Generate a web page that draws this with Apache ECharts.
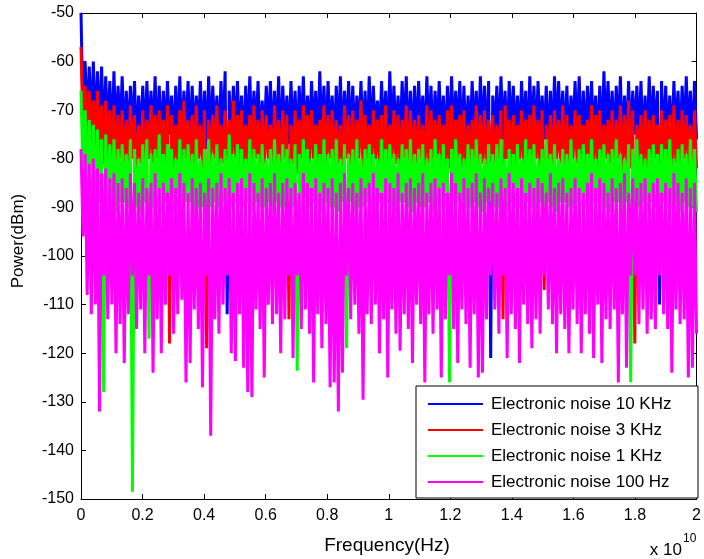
<!DOCTYPE html>
<html>
<head>
<meta charset="utf-8">
<script src="https://cdn.jsdelivr.net/npm/echarts@6/dist/echarts.min.js"></script>
<style>html,body{margin:0;padding:0;background:#fff;}#c{width:704px;height:559px;}</style>
</head>
<body>
<div id="c"></div>
<script>
// Frequency axis in units of 1e10 Hz
const freqMin = 0, freqMax = 2;
const xTicks = [0, 0.2, 0.4, 0.6, 0.8, 1, 1.2, 1.4, 1.6, 1.8, 2];
const yTicks = [-150, -140, -130, -120, -110, -100, -90, -80, -70, -60, -50];
const seriesNames = ['Electronic noise 10 KHz', 'Electronic noise 3 KHz', 'Electronic noise 1 KHz', 'Electronic noise 100 Hz'];

// Upper (peak) and lower (trough) excursions of each noise trace, read along the frequency axis (dBm)
const blueTop = [
-50,-60,-61,-60,-62,-61,-63,-64,-62,-65,
-63,-66,-65,-64,-67,-65,-64,-66,-63,-65,
-66,-64,-67,-65,-63,-66,-64,-65,-67,-64,
-66,-63,-65,-67,-64,-62,-66,-65,-64,-67,
-65,-63,-66,-64,-68,-65,-64,-66,-63,-65,
-67,-64,-66,-65,-63,-67,-64,-66,-62,-65,
-64,-67,-65,-63,-66,-64,-65,-67,-64,-66,
-63,-65,-68,-64,-66,-62,-65,-67,-64,-63,
-66,-65,-64,-67,-63,-65,-66,-64,-67,-65,
-63,-66,-64,-65,-67,-64,-66,-63,-65,-64,
-67,-65,-63,-66,-64,-65,-67,-64,-66,-63,
-65,-64,-67,-65,-66,-63,-64,-66,-65,-67,
-64,-63,-66,-65,-64,-67,-65,-62,-64,-66,
-65,-63,-67,-64,-66,-65,-64,-67,-63,-65,
-66,-64,-65,-67,-64,-66,-65,-63,-66,-64];
const blueBottom = [
-72,-73,-74,-75,-74,-76,-75,-77,-76,-75,
-77,-76,-75,-78,-76,-77,-75,-76,-78,-77,
-76,-75,-77,-76,-78,-75,-77,-76,-75,-77,
-78,-76,-75,-77,-76,-112,-77,-75,-76,-78,
-76,-77,-75,-78,-76,-75,-77,-76,-78,-75,
-77,-76,-78,-75,-77,-76,-75,-78,-76,-77,
-75,-77,-76,-78,-75,-77,-76,-75,-77,-78,
-76,-75,-77,-76,-78,-75,-76,-77,-75,-78,
-77,-76,-75,-78,-76,-77,-75,-76,-78,-77,
-76,-75,-77,-78,-76,-75,-77,-76,-78,-121,
-75,-77,-76,-78,-75,-76,-77,-75,-78,-76,
-77,-75,-76,-78,-77,-75,-76,-77,-78,-75,
-76,-78,-77,-75,-76,-77,-78,-75,-76,-77,
-75,-78,-76,-77,-75,-76,-78,-77,-76,-75,
-110,-77,-76,-78,-75,-77,-76,-75,-78,-76];

const redTop = [
-57,-65,-66,-68,-66,-69,-68,-70,-69,-71,
-70,-72,-69,-71,-73,-70,-72,-69,-71,-70,
-72,-69,-71,-73,-70,-68,-72,-71,-69,-73,
-70,-72,-71,-69,-73,-70,-72,-68,-71,-70,
-73,-71,-69,-72,-70,-71,-73,-69,-72,-70,
-71,-73,-70,-72,-69,-71,-70,-73,-72,-69,
-71,-70,-72,-73,-69,-71,-70,-72,-68,-71,
-73,-70,-72,-71,-69,-73,-70,-71,-72,-69,
-70,-72,-71,-73,-69,-70,-72,-71,-73,-70,
-69,-72,-71,-70,-73,-72,-69,-71,-70,-72,
-71,-73,-70,-69,-72,-71,-73,-70,-72,-71,
-69,-72,-70,-73,-71,-70,-72,-69,-71,-73,
-70,-71,-73,-72,-69,-71,-70,-73,-72,-70,
-72,-69,-71,-68,-70,-73,-71,-70,-72,-71,
-73,-70,-72,-71,-69,-72,-70,-71,-73,-70];
const redBottom = [
-74,-76,-78,-80,-79,-81,-80,-82,-81,-80,
-82,-81,-80,-83,-81,-82,-80,-81,-83,-82,
-81,-118,-82,-81,-83,-80,-82,-81,-80,-82,
-119,-81,-80,-82,-81,-83,-82,-80,-81,-83,
-81,-82,-80,-83,-81,-80,-82,-81,-83,-80,
-113,-81,-83,-80,-82,-81,-80,-83,-81,-82,
-80,-82,-81,-83,-80,-82,-81,-80,-82,-83,
-81,-80,-82,-81,-83,-80,-81,-82,-80,-83,
-82,-81,-80,-83,-81,-82,-80,-81,-83,-82,
-81,-80,-82,-83,-81,-80,-82,-81,-83,-80,
-82,-81,-113,-80,-83,-81,-80,-82,-81,-83,
-80,-82,-107,-81,-83,-80,-81,-82,-83,-80,
-81,-83,-82,-80,-81,-82,-83,-80,-81,-82,
-80,-83,-81,-82,-118,-81,-83,-82,-81,-80,
-82,-81,-80,-83,-81,-82,-80,-81,-83,-82];

const greenTop = [
-66,-70,-72,-73,-74,-76,-75,-77,-76,-78,
-77,-79,-76,-78,-80,-77,-76,-79,-78,-75,
-79,-77,-78,-80,-76,-78,-77,-79,-76,-80,
-78,-76,-79,-77,-80,-78,-75,-79,-77,-78,
-80,-76,-78,-79,-77,-80,-78,-76,-79,-77,
-78,-80,-77,-79,-76,-78,-80,-77,-79,-76,
-79,-78,-76,-80,-77,-79,-78,-76,-80,-78,
-77,-79,-80,-76,-78,-77,-79,-80,-77,-78,
-76,-79,-78,-77,-80,-78,-76,-79,-77,-80,
-78,-76,-79,-80,-77,-78,-76,-79,-80,-77,
-79,-77,-76,-80,-78,-79,-77,-80,-76,-78,
-77,-80,-78,-76,-79,-77,-80,-78,-79,-76,
-80,-78,-77,-79,-76,-80,-78,-77,-79,-78,
-76,-79,-80,-77,-78,-76,-79,-80,-78,-77,
-79,-77,-78,-76,-80,-78,-77,-79,-76,-78];
const greenBottom = [
-84,-87,-89,-90,-89,-128,-89,-90,-91,-89,
-89,-90,-148.5,-90,-91,-89,-117,-90,-90,-91,
-89,-89,-91,-90,-90,-89,-89,-91,-90,-90,
-91,-90,-89,-90,-89,-91,-90,-89,-90,-90,
-89,-91,-89,-90,-90,-89,-91,-89,-90,-90,
-89,-90,-123.6,-91,-89,-90,-89,-90,-91,-89,
-90,-90,-91,-89,-119,-89,-91,-90,-90,-89,
-90,-91,-89,-90,-89,-90,-91,-89,-89,-90,
-91,-89,-90,-90,-89,-91,-89,-90,-90,-126,
-89,-89,-91,-90,-90,-89,-90,-91,-89,-89,
-90,-90,-89,-91,-89,-90,-90,-91,-89,-90,
-91,-89,-90,-89,-90,-91,-89,-89,-90,-90,
-89,-90,-90,-91,-89,-89,-90,-90,-91,-89,
-89,-91,-89,-126,-90,-90,-89,-91,-89,-90,
-91,-89,-90,-90,-89,-91,-89,-90,-90,-91];

const magentaTop = [
-78,-79,-81,-80,-82,-83,-82,-84,-83,-85,
-84,-86,-83,-85,-87,-84,-86,-85,-83,-86,
-85,-87,-84,-86,-83,-85,-87,-84,-86,-85,
-87,-84,-86,-85,-83,-86,-84,-87,-85,-84,
-86,-83,-85,-87,-84,-86,-85,-83,-87,-85,
-84,-86,-85,-87,-83,-85,-86,-84,-87,-85,
-86,-84,-87,-85,-83,-86,-85,-87,-84,-86,
-85,-83,-86,-87,-84,-85,-86,-83,-87,-85,
-84,-86,-85,-83,-87,-85,-84,-86,-85,-87,
-83,-85,-87,-84,-86,-85,-83,-87,-84,-86,
-85,-87,-84,-86,-83,-85,-86,-84,-87,-85,
-86,-84,-85,-87,-83,-86,-85,-84,-87,-86,
-84,-86,-87,-85,-83,-86,-84,-85,-87,-84,
-86,-85,-83,-87,-84,-86,-85,-84,-87,-85,
-84,-87,-85,-86,-83,-85,-87,-84,-86,-85];
const magentaBottom = [
-96,-108,-112,-110,-132,-104,-113,-110,-120,-114,
-122,-112,-104,-115,-111,-120,-104,-124,-113,-120,
-110,-104,-116,-112,-109,-126,-122,-111,-115,-127,
-104,-137,-113,-116,-110,-104,-120,-121.6,-112,-123,
-128,-129,-111,-115,-125,-110,-114,-112,-120,-113,
-104,-121,-104,-115,-111,-116,-126,-112,-119,-114,
-127,-126,-132,-124,-104,-113,-110,-116,-129.6,-112,
-114,-110,-120,-113,-125,-111,-116,-119.5,-112,-115,
-122,-110,-114,-126,-112,-116,-111,-125,-113,-104,
-115,-122,-111,-114,-123,-112,-125,-124,-113,-104,
-111,-116,-104,-121,-112,-115,-122,-110,-114,-119,
-113,-116,-104,-111,-114,-120,-112,-115,-120,-111,
-114,-120,-112,-116,-121,-110,-122,-113,-115,-111,
-126,-112,-123,-104,-104,-114,-111,-116,-113,-115,
-104,-112,-115,-124,-111,-114,-113,-125,-123,-116];

const colors = ['#0000ff', '#ff0000', '#00ff00', '#ff00ff'];

// frequency bins are evenly spaced on [freqMin, freqMax]
function trace(top, bottom) {
  const n = top.length * 2;
  const out = [];
  for (let k = 0; k < top.length; k++) {
    out.push([freqMin + (2 * k) * (freqMax - freqMin) / (n - 1), top[k]]);
    out.push([freqMin + (2 * k + 1) * (freqMax - freqMin) / (n - 1), bottom[k]]);
  }
  return out;
}
const traces = [
  trace(blueTop, blueBottom),
  trace(redTop, redBottom),
  trace(greenTop, greenBottom),
  trace(magentaTop, magentaBottom)
];

const FONT = '"Liberation Sans", Arial, Helvetica, sans-serif';
const chart = echarts.init(document.getElementById('c'), null, {renderer: 'canvas'});

const axisCommon = {
  axisLine: {show: true, onZero: false, lineStyle: {color: '#000', width: 1}},
  axisTick: {show: true, inside: true, length: 5, lineStyle: {color: '#000'}},
  splitLine: {show: false}
};

chart.setOption({
  animation: false,
  backgroundColor: '#fff',
  grid: {left: 81, right: 6, top: 13, bottom: 60, containLabel: false},
  xAxis: [
    Object.assign({type: 'value', position: 'bottom', min: xTicks[0], max: xTicks[xTicks.length - 1], interval: 0.2,
      axisLabel: {show: true, color: '#000', fontSize: 16, fontFamily: FONT, margin: 9,
        formatter: v => String(+v.toFixed(1))}}, axisCommon),
    Object.assign({type: 'value', position: 'top', min: xTicks[0], max: xTicks[xTicks.length - 1], interval: 0.2,
      axisLabel: {show: false}}, axisCommon)
  ],
  yAxis: [
    Object.assign({type: 'value', position: 'left', min: yTicks[0], max: yTicks[yTicks.length - 1], interval: 10,
      axisLabel: {show: true, color: '#000', fontSize: 16, fontFamily: FONT, margin: 7}}, axisCommon),
    Object.assign({type: 'value', position: 'right', min: yTicks[0], max: yTicks[yTicks.length - 1], interval: 10,
      axisLabel: {show: false}}, axisCommon)
  ],
  legend: {
    show: true,
    orient: 'vertical',
    left: 428, top: 395,
    icon: 'rect',
    itemWidth: 55, itemHeight: 2, itemGap: 8,
    padding: 0,
    z: 60,
    data: seriesNames,
    textStyle: {color: '#000', fontSize: 17, fontFamily: FONT, lineHeight: 18, padding: [0, 0, 0, 3]}
  },
  graphic: [
    {type: 'rect', z: 50, shape: {x: 416, y: 386, width: 282, height: 112},
      style: {fill: '#fff', stroke: '#000', lineWidth: 1}},
    {type: 'text', z: 50, x: 18, y: 241, rotation: Math.PI / 2,
      style: {text: 'Power(dBm)', font: '17px ' + FONT, fill: '#000', textAlign: 'center', textVerticalAlign: 'middle'}},
    {type: 'text', z: 50, x: 387, y: 546,
      style: {text: 'Frequency(Hz)', font: '19px ' + FONT, fill: '#000', textAlign: 'center', textVerticalAlign: 'middle'}},
    {type: 'text', z: 50, x: 682, y: 550,
      style: {text: 'x 10', font: '17px ' + FONT, fill: '#000', textAlign: 'right', textVerticalAlign: 'middle'}},
    {type: 'text', z: 50, x: 683, y: 539,
      style: {text: '10', font: '12px ' + FONT, fill: '#000', textAlign: 'left', textVerticalAlign: 'middle'}}
  ],
  series: traces.map((d, i) => ({
    name: seriesNames[i],
    type: 'line',
    data: d,
    xAxisIndex: 0, yAxisIndex: 0,
    showSymbol: false,
    symbol: 'none',
    clip: true,
    sampling: null,
    z: 2 + i,
    color: colors[i],
    lineStyle: {color: colors[i], width: 3, join: 'bevel'},
    emphasis: {disabled: true}
  }))
});
</script>
</body>
</html>
